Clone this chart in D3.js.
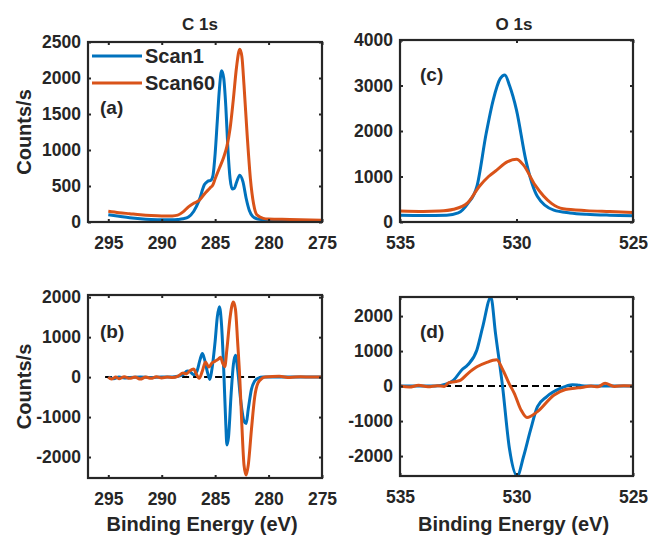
<!DOCTYPE html>
<html><head><meta charset="utf-8">
<script src="https://cdn.jsdelivr.net/npm/d3@7"></script>
<style>
body{margin:0;background:#fff;}
text{font-family:"Liberation Sans",Arial,sans-serif;font-weight:bold;fill:#262626;}
</style></head>
<body><svg id="chart" width="648" height="535"></svg>
<script>
// ---------- DATA ----------
const seriesNames = ["Scan1", "Scan60"];
const panelTitles = ["C 1s", "O 1s"];
const panelLetters = ["(a)", "(b)", "(c)", "(d)"];
const xTicksC = [295, 290, 285, 280, 275];
const xTicksO = [535, 530, 525];
const yTicksA = [0, 500, 1000, 1500, 2000, 2500];
const yTicksB = [-2000, -1000, 0, 1000, 2000];
const yTicksC = [0, 1000, 2000, 3000, 4000];
const yTicksD = [-2000, -1000, 0, 1000, 2000];

// (a) C 1s raw spectra  [binding energy, counts/s]
const cScan1 = [[295,100],[294,80],[293,60],[292,45],[291,35],[290,30],[289,30],[288.5,35],[288,45],[287.5,70],[287,150],[286.5,300],[286,520],[285.7,565],[285.4,580],[285.2,650],[285,950],[284.8,1400],[284.6,1850],[284.4,2100],[284.2,2000],[284,1600],[283.8,1000],[283.6,600],[283.4,460],[283.2,470],[283,550],[282.7,650],[282.4,560],[282.1,330],[281.8,160],[281.5,80],[281,40],[280,25],[278,20],[275,15]];
const cScan60 = [[295,150],[294,130],[293,115],[292,100],[291,90],[290,85],[289,85],[288.5,95],[288,140],[287.5,210],[287,260],[286.5,300],[286,390],[285.5,470],[285.2,520],[285,600],[284.6,750],[284.2,900],[283.9,1050],[283.6,1300],[283.3,1700],[283,2150],[282.7,2400],[282.5,2300],[282.3,1900],[282,1200],[281.7,600],[281.4,250],[281.1,100],[280.5,50],[280,40],[278,35],[275,25]];
// (b) C 1s derivative
const cDerivScan1 = [[295,0],[294.5,-40],[294,0],[293.5,-20],[293,-10],[292,0],[291,-10],[290,0],[289,0],[288.5,20],[288,60],[287.6,150],[287.3,120],[287,60],[286.7,150],[286.4,450],[286.2,590],[286,450],[285.7,100],[285.5,-60],[285.3,200],[285,900],[284.8,1500],[284.6,1760],[284.4,1300],[284.2,200],[284,-1200],[283.9,-1700],[283.75,-1500],[283.5,-400],[283.3,300],[283.1,550],[282.9,200],[282.6,-600],[282.3,-1100],[282.1,-1160],[281.9,-800],[281.6,-300],[281.3,-100],[281,-30],[280.5,0],[280,0],[278,0],[275,0]];
const cDerivScan60 = [[295,0],[294.7,-50],[294.3,0],[294,-40],[293.5,10],[293,-30],[292.5,0],[292,-50],[291.5,0],[291,-30],[290.5,10],[290,-20],[289.5,0],[289,-10],[288.5,20],[288,100],[287.7,80],[287.4,150],[287,200],[286.8,100],[286.5,-30],[286.2,150],[285.9,380],[285.6,250],[285.3,350],[285,400],[284.7,450],[284.5,500],[284.3,350],[284.1,260],[283.9,700],[283.6,1500],[283.3,1880],[283.1,1700],[282.9,900],[282.7,0],[282.5,-1200],[282.3,-2200],[282.1,-2450],[281.9,-2200],[281.6,-1300],[281.3,-500],[281,-150],[280.6,-30],[280.3,0],[279,20],[278,-10],[277,10],[276,0],[275,0]];
// (c) O 1s raw spectra
const oScan1 = [[535,150],[534,145],[533,150],[532.5,200],[532.1,400],[531.7,780],[531.3,1950],[531,2680],[530.7,3150],[530.5,3230],[530.3,3000],[530,2460],[529.6,1360],[529.1,560],[528.4,260],[527.7,200],[527,170],[526,150],[525,140]];
const oScan60 = [[535,240],[534,230],[533.3,240],[532.7,280],[532.1,420],[531.6,780],[531.2,1000],[530.85,1140],[530.4,1320],[530,1380],[529.7,1250],[529.2,810],[528.5,410],[528,290],[527,250],[526,230],[525,210]];
// (d) O 1s derivative
const oDerivScan1 = [[535,0],[534,0],[533.5,0],[533,60],[532.7,170],[532.35,460],[532.1,600],[531.7,1030],[531.45,1690],[531.1,2540],[530.9,1500],[530.6,0],[530.3,-1800],[529.97,-2570],[529.7,-2020],[529.4,-1260],[529.1,-590],[528.7,-300],[528.1,-60],[527.6,40],[527.3,20],[527,0],[526,0],[525,0]];
const oDerivScan60 = [[535,0],[534.6,-30],[534.2,20],[533.8,-20],[533.4,10],[533.1,-10],[532.9,100],[532.6,130],[532.4,170],[532.1,350],[531.7,550],[531.3,670],[530.85,750],[530.6,480],[530.3,50],[530.1,-200],[529.8,-690],[529.55,-900],[529.1,-730],[528.4,-260],[527.9,-100],[527.5,-60],[527.2,-40],[526.8,0],[526.5,-20],[526.2,80],[525.8,-10],[525.4,10],[525,0]];

// ---------- LAYOUT ----------
const colors = ["#0072BD", "#D95319"];
const axisColor = "#262626";
const panels = [
  {id:"a", box:{l:88,r:322,t:42,b:222}, xd:[296.9,275], yd:[0,2500], xt:xTicksC, yt:yTicksA, data:[cScan1,cScan60], zero:false, letter:panelLetters[0], lp:[100,114], ylabel:true},
  {id:"b", box:{l:88,r:322,t:295,b:478}, xd:[296.9,275], yd:[-2525,2055], xt:xTicksC, yt:yTicksB, data:[cDerivScan1,cDerivScan60], zero:[295.3,275], letter:panelLetters[1], lp:[100,338], ylabel:true, xlabel:true},
  {id:"c", box:{l:400,r:633,t:40,b:222}, xd:[535,525], yd:[0,4000], xt:xTicksO, yt:yTicksC, data:[oScan1,oScan60], zero:false, letter:panelLetters[2], lp:[420,81]},
  {id:"d", box:{l:400,r:633,t:297,b:476}, xd:[535,525], yd:[-2570,2545], xt:xTicksO, yt:yTicksD, data:[oDerivScan1,oDerivScan60], zero:[535,525], letter:panelLetters[3], lp:[420,338], xlabel:true}
];

const svg = d3.select("#chart");
const tickLen = 3;
const fmt = d => String(d);

panels.forEach((p, i) => {
  const B = p.box;
  const x = d3.scaleLinear().domain(p.xd).range([B.l, B.r]);
  const y = d3.scaleLinear().domain(p.yd).range([B.b, B.t]);
  const g = svg.append("g");

  g.append("clipPath").attr("id", "clip" + p.id)
    .append("rect").attr("x", B.l).attr("y", B.t).attr("width", B.r - B.l).attr("height", B.b - B.t);

  if (p.zero) {
    g.append("line").attr("x1", x(p.zero[0])).attr("x2", x(p.zero[1]))
      .attr("y1", y(0)).attr("y2", y(0))
      .attr("stroke", "#000").attr("stroke-width", 2).attr("stroke-dasharray", "7,4");
  }

  const line = d3.line().x(d => x(d[0])).y(d => y(d[1])).curve(d3.curveMonotoneX);
  p.data.forEach((s, k) => {
    g.append("path").datum(s).attr("d", line)
      .attr("fill", "none").attr("stroke", colors[k]).attr("stroke-width", 3)
      .attr("stroke-linejoin", "round")
      .attr("clip-path", "url(#clip" + p.id + ")");
  });

  const xAxisB = d3.axisBottom(x).tickValues(p.xt).tickSizeInner(-tickLen).tickSizeOuter(0).tickPadding(15).tickFormat(fmt);
  const xAxisT = d3.axisTop(x).tickValues(p.xt).tickSizeInner(-tickLen).tickSizeOuter(0).tickFormat("");
  const yAxisL = d3.axisLeft(y).tickValues(p.yt).tickSizeInner(-tickLen).tickSizeOuter(0).tickPadding(7).tickFormat(fmt);
  const yAxisR = d3.axisRight(y).tickValues(p.yt).tickSizeInner(-tickLen).tickSizeOuter(0).tickFormat("");

  const axs = [
    g.append("g").attr("transform", `translate(0,${B.b})`).call(xAxisB),
    g.append("g").attr("transform", `translate(0,${B.t})`).call(xAxisT),
    g.append("g").attr("transform", `translate(${B.l},0)`).call(yAxisL),
    g.append("g").attr("transform", `translate(${B.r},0)`).call(yAxisR)
  ];
  axs.forEach(a => {
    a.select(".domain").remove();
    a.selectAll(".tick line").attr("stroke", axisColor).attr("stroke-width", 2);
    a.selectAll(".tick text").attr("fill", axisColor).style("font-size", "17.5px").style("font-family", "'Liberation Sans',Arial,sans-serif").style("font-weight", "bold");
  });

  g.append("rect").attr("x", B.l).attr("y", B.t).attr("width", B.r - B.l).attr("height", B.b - B.t)
    .attr("fill", "none").attr("stroke", axisColor).attr("stroke-width", 2.2);

  g.append("text").attr("x", p.lp[0]).attr("y", p.lp[1]).style("font-size", "19px").text(p.letter);

  if (p.ylabel) {
    const cy = (B.t + B.b) / 2;
    g.append("text").attr("transform", `translate(31,${cy}) rotate(-90)`)
      .attr("text-anchor", "middle").style("font-size", "20px").text("Counts/s");
  }
  if (p.xlabel) {
    g.append("text").attr("x", (B.l + B.r) / 2 - 3).attr("y", 531)
      .attr("text-anchor", "middle").style("font-size", "20px").text("Binding Energy (eV)");
  }
});

svg.append("text").attr("x", 200).attr("y", 30).attr("text-anchor", "middle").style("font-size", "17px").text(panelTitles[0]);
svg.append("text").attr("x", 514).attr("y", 30).attr("text-anchor", "middle").style("font-size", "17px").text(panelTitles[1]);

const leg = svg.append("g");
seriesNames.forEach((n, k) => {
  const yy = 56 + k * 27;
  leg.append("line").attr("x1", 92).attr("x2", 142).attr("y1", yy).attr("y2", yy)
    .attr("stroke", colors[k]).attr("stroke-width", 3);
  leg.append("text").attr("x", 145).attr("y", yy + 7).style("font-size", "20px").text(n);
});
</script>
</body></html>
